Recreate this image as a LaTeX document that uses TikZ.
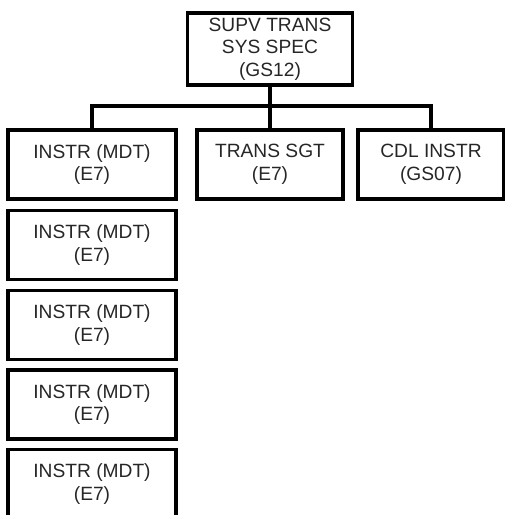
\documentclass[tikz,border=0pt]{standalone}
\usepackage{fontspec}
\setmainfont{Liberation Sans}
\usetikzlibrary{
    positioning
}
\tikzset{
    post/.style={
        draw,
        line width=2.5pt,
        align=center,
        text=black!85,
        inner sep=0pt,
        font=\fontsize{14.4}{17}\selectfont
    },
    wide post/.style={
        post,
        minimum width=126pt,
        minimum height=51.75pt
    },
    narrow post/.style={
        post,
        minimum width=109.5pt,
        minimum height=51.75pt
    },
    link/.style={
        line width=2.5pt
    }
}

\begin{document}
\begin{tikzpicture}[
    x=0.75pt,
    y=-0.75pt
]

    \useasboundingbox (0,0) rectangle (505,515);

    % Puestos
    \node[post, minimum width=123.75pt, minimum height=54pt]
                          (supv) at (270,49)    {SUPV TRANS\\SYS SPEC\\(GS12)};
    \node[wide post]      (ins1) at (92,164.5)  {INSTR (MDT)\\(E7)};
    \node[narrow post]    (sgt)  at (270,164.5) {TRANS SGT\\(E7)};
    \node[narrow post]    (cdl)  at (431,164.5) {CDL INSTR\\(GS07)};
    \node[wide post]      (ins2) at (92,245)    {INSTR (MDT)\\(E7)};
    \node[wide post]      (ins3) at (92,325)    {INSTR (MDT)\\(E7)};
    \node[wide post]      (ins4) at (92,404.5)  {INSTR (MDT)\\(E7)};
    \node[wide post]      (ins5) at (92,484)    {INSTR (MDT)\\(E7)};

    % Conexiones
    \coordinate (bus) at (270,106);

    \draw[link] (supv.south) -- (bus);
    \draw[link] (ins1.north) |- (bus) -| (cdl.north);
    \draw[link] (bus) -- (sgt.north);

\end{tikzpicture}
\end{document}
